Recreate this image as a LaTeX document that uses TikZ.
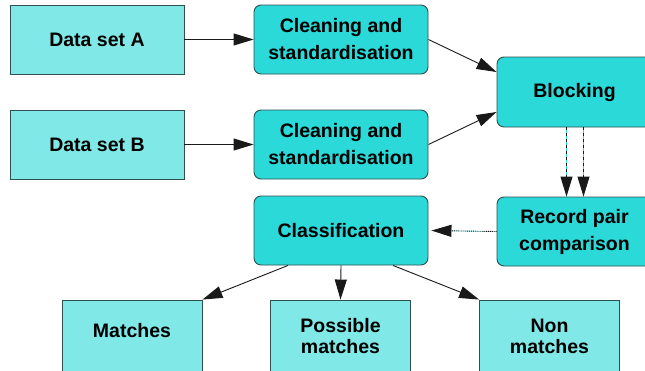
\documentclass[tikz,border=0pt]{standalone}
\usepackage{fontspec}
\setmainfont{Liberation Sans}
\usepackage{xcolor}
\usepackage{tikz}
\usetikzlibrary{arrows.meta}
\definecolor{boxDark}{HTML}{2AD9D8}
\definecolor{boxLight}{HTML}{80E9E7}
\definecolor{edgeGray}{HTML}{2F4F4F}

\begin{document}
\begin{tikzpicture}[x=1pt, y=-1pt,
    stage/.style={draw=edgeGray, fill=boxDark, rounded corners=7pt, line width=0.9pt,
        minimum width=174pt, minimum height=69pt, inner sep=0pt, align=center,
        font=\fontsize{19.5}{27}\selectfont\bfseries},
    dataset/.style={stage, fill=boxLight, sharp corners},
    outcome/.style={dataset, minimum width=140pt, minimum height=72pt,
        font=\fontsize{19.5}{21}\selectfont\bfseries},
    link/.style={draw=black!90, line width=0.9pt, -{Triangle[length=20pt,width=12pt]}},
    dashlink/.style={link, dashed, preaction={draw=boxDark, solid, -}},
    dotlink/.style={link, densely dotted, shorten >=3pt, preaction={draw=boxDark, solid, -, shorten >=3pt}}]
    \useasboundingbox (0, 0) rectangle (645, 370);
    \node[dataset] (dataA) at (97, 39.5) {Data set A};
    \node[dataset] (dataB) at (97, 144.5) {Data set B};
    \node[stage] (cleanA) at (341, 39.5) {Cleaning and\\standardisation};
    \node[stage] (cleanB) at (341, 144.5) {Cleaning and\\standardisation};
    \node[stage, minimum width=155pt, minimum height=70pt] (block) at (574.5, 92) {Blocking};
    \node[stage, minimum width=155pt] (compare) at (574.5, 231.5) {Record pair\\comparison};
    \node[stage] (classify) at (341, 230.5) {Classification};
    \node[outcome] (match) at (132, 336) {\raisebox{4pt}[\height][0pt]{Matches}\vphantom{p}};
    \node[outcome] (possible) at (340.5, 336) {Possible\\matches};
    \node[outcome] (nonmatch) at (549.5, 336) {Non\\matches};
    \draw[link] (dataA) -- (cleanA);
    \draw[link] (dataB) -- (cleanB);
    \draw[link] (cleanA.east) -- ([yshift=20pt]block.west);
    \draw[link] (cleanB.east) -- ([yshift=-20pt]block.west);
    \draw[dashlink] ([xshift=-8pt]block.south) -- ([xshift=-8pt]compare.north);
    \draw[dashlink] ([xshift=9pt]block.south) -- ([xshift=9pt]compare.north);
    \draw[dotlink] (compare.west) -- (classify.east);
    \draw[link] ([xshift=-53pt]classify.south) -- (match.north east);
    \draw[link] (classify.south) -- (possible.north);
    \draw[link] ([xshift=52pt]classify.south) -- (nonmatch.north west);
\end{tikzpicture}
\end{document}
